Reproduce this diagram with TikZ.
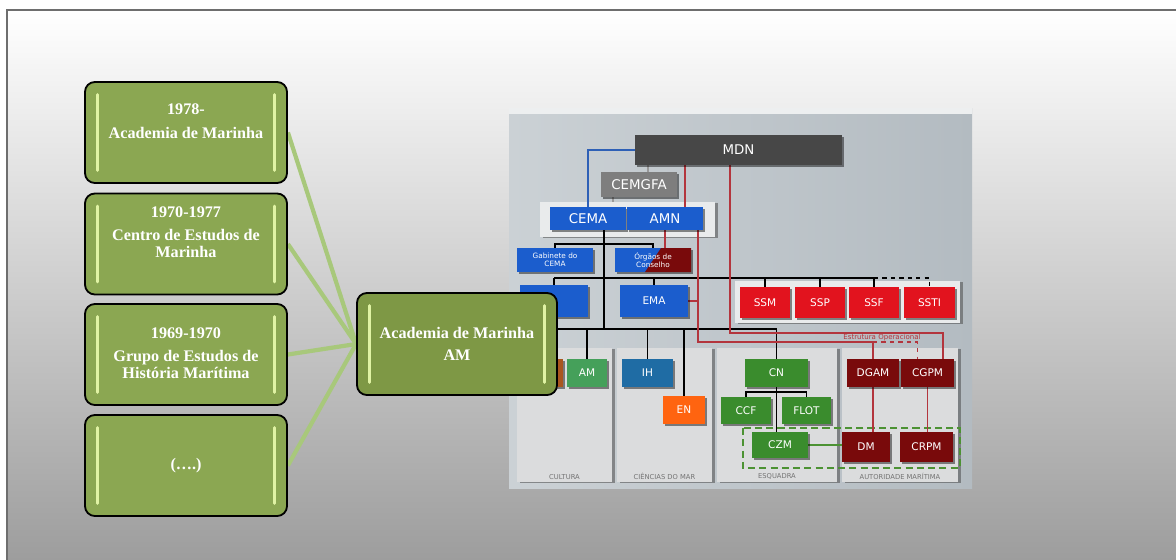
\documentclass[tikz,border=0pt]{standalone}
\usepackage{fontspec}
\setmainfont{Liberation Serif}
\newfontfamily\chartfont{DejaVu Sans}
\usetikzlibrary{positioning, calc, shadows}
\definecolor{eragreen}{HTML}{8BA752}
\definecolor{coregreen}{HTML}{7E9845}
\definecolor{glint}{HTML}{E0F3A4}
\definecolor{linkgreen}{HTML}{A8C87B}
\definecolor{framegray}{HTML}{6E6E6E}
\definecolor{slidemid}{HTML}{D9D9D9}
\definecolor{slidelow}{HTML}{9B9B9B}
\definecolor{chartlite}{HTML}{CBD1D5}
\definecolor{chartdeep}{HTML}{B3BBC1}
\definecolor{panelgray}{HTML}{DBDCDD}
\definecolor{headgray}{HTML}{E9EBEC}
\definecolor{mdngray}{HTML}{474747}
\definecolor{cemgfagray}{HTML}{7E7E7E}
\definecolor{navblue}{HTML}{1B5DCD}
\definecolor{hydroblue}{HTML}{1F6CA4}
\definecolor{schoolorange}{HTML}{FF6410}
\definecolor{cultgreen}{HTML}{45A05A}
\definecolor{fleetgreen}{HTML}{3A8C2D}
\definecolor{wine}{HTML}{790A0B}
\definecolor{ssred}{HTML}{E2131E}
\definecolor{rust}{HTML}{A9561F}
\definecolor{linkred}{HTML}{B3353D}
\definecolor{linkblue}{HTML}{2E60B6}
\definecolor{zonegreen}{HTML}{4C9233}
\def\pix{0.025cm}
\pgfdeclarelayer{backdrop}
\pgfdeclarelayer{links}
\pgfsetlayers{backdrop,links,main}

\begin{document}
\begin{tikzpicture}[x=0.025cm, y=-0.025cm,
  box size/.style 2 args={minimum width=#1*\pix, minimum height=#2*\pix},
  erabox/.style={draw=black, line width=1.3pt, rounded corners=7pt, fill=eragreen,
    box size={202}{101}, inner sep=0pt,
    path picture={
      \draw[glint, line width=2.2pt, line cap=round]
        ([xshift=9pt, yshift=-9pt]path picture bounding box.north west) --
        ([xshift=9pt, yshift=9pt]path picture bounding box.south west);
      \draw[glint, line width=2.2pt, line cap=round]
        ([xshift=-9pt, yshift=-9pt]path picture bounding box.north east) --
        ([xshift=-9pt, yshift=9pt]path picture bounding box.south east);}},
  eratext/.style={text=white, align=center, font=\bfseries\fontsize{11.5}{12}\selectfont},
  eralink/.style={linkgreen, line width=3pt},
  orgbox/.style={inner sep=0pt, text=white, align=center,
    font=\chartfont\fontsize{7.5}{8}\selectfont,
    drop shadow={shadow xshift=1.3pt, shadow yshift=-1.3pt, fill=black, opacity=.45}},
  bigbox/.style={orgbox, font=\chartfont\fontsize{9.5}{10}\selectfont},
  tinybox/.style={orgbox, font=\chartfont\fontsize{5.2}{5.8}\selectfont},
  panel/.style={fill=panelgray, inner sep=0pt,
    drop shadow={shadow xshift=2pt, shadow yshift=-1pt, fill=black!70, opacity=.55}},
  panellabel/.style={text=black!55, inner sep=.5pt, font=\chartfont\fontsize{4.8}{5}\selectfont},
  orgline/.style={black, line width=1.2pt},
  redline/.style={linkred, line width=1.1pt},
  blueline/.style={linkblue, line width=1.1pt},
  grayline/.style={black!40, line width=1.1pt},
  zoneline/.style={zonegreen, line width=1.1pt}]
\useasboundingbox (0,0) rectangle (1176,559);

% slide and chart ground
\begin{pgfonlayer}{backdrop}
  \draw[framegray, line width=1.5pt, top color=white, middle color=slidemid, bottom color=slidelow]
    (7,10) rectangle (1186,572);
  \fill[left color=chartlite, right color=chartdeep] (509,108) rectangle (972,488);
  \fill[white!65!chartlite] (509,108) rectangle (972,114);
  \node[panel, fill=headgray, box size={175}{35}] (headpanel) at (627.5,219.5) {};
  \node[panel, fill=headgray, box size={225}{42}] (sspanel) at (847.5,302) {};
  \node[panel, box size={95}{134}] (cultura) at (564.5,415) {};
  \node[panel, box size={95}{134}] (ciencias) at (664.5,415) {};
  \node[panel, box size={120}{134}] (esquadra) at (777,415) {};
  \node[panel, box size={116}{134}] (autoridade) at (900,415) {};
  \draw[zonegreen, line width=1.2pt, dash pattern=on 5pt off 3pt] (743,428) rectangle (960,468);
\end{pgfonlayer}

\node[panellabel, above=1.5pt of cultura.south] (cultura tag) {CULTURA};
\node[panellabel, above=1.5pt of ciencias.south] (ciencias tag) {CIÊNCIAS DO MAR};
\node[panellabel, above=1.5pt of esquadra.south] (esquadra tag) {ESQUADRA};
\node[panellabel, above=1.5pt of autoridade.south] (autoridade tag) {AUTORIDADE MARÍTIMA};

% chart boxes
\node[bigbox, fill=mdngray, box size={207}{30}] (mdn) at (738.5,150) {MDN};
\node[bigbox, fill=cemgfagray, box size={76}{25}] (cemgfa) at (639,184.5) {CEMGFA};
\node[bigbox, fill=navblue, box size={76}{23}] (cema) at (588,218.5) {CEMA};
\node[bigbox, fill=navblue, box size={76}{23}] (amn) at (665,218.5) {AMN};
\node[tinybox, fill=navblue, box size={76}{24}] (gabinete) at (555,260) {Gabinete do\\CEMA};
\node[tinybox, fill=navblue, box size={76}{24},
  path picture={\fill[wine] ([xshift=8*\pix]path picture bounding box.north)
    -- (path picture bounding box.north east) -- (path picture bounding box.south east)
    -- ([xshift=-8*\pix]path picture bounding box.south) -- cycle;}]
  (orgaos) at (653,260) {Órgãos de\\Conselho};
\node[orgbox, fill=navblue, box size={68}{32}] (cemm) at (554,301) {};
\node[orgbox, fill=navblue, box size={68}{32}] (ema) at (654,301) {EMA};
\node[orgbox, fill=ssred, box size={50}{31}] (ssm) at (765,302.5) {SSM};
\node[orgbox, fill=ssred, box size={50}{31}] (ssp) at (820,302.5) {SSP};
\node[orgbox, fill=ssred, box size={50}{31}] (ssf) at (874,302.5) {SSF};
\node[orgbox, fill=ssred, box size={51}{31}] (ssti) at (929.5,302.5) {SSTI};
\node[orgbox, fill=rust, box size={43}{28}] (rustbox) at (541.5,373) {};
\node[orgbox, fill=cultgreen, box size={40}{28}] (am) at (587,373) {AM};
\node[orgbox, fill=hydroblue, box size={51}{28}] (ih) at (647.5,373) {IH};
\node[orgbox, fill=schoolorange, box size={42}{28}] (en) at (684,410) {EN};
\node[orgbox, fill=fleetgreen, box size={63}{28}] (cn) at (776.5,373) {CN};
\node[orgbox, fill=fleetgreen, box size={50}{27}] (ccf) at (746,410.5) {CCF};
\node[orgbox, fill=fleetgreen, box size={49}{27}] (flot) at (806.5,410.5) {FLOT};
\node[orgbox, fill=fleetgreen, box size={56}{26}] (czm) at (780,445) {CZM};
\node[orgbox, fill=wine, box size={52}{28}] (dgam) at (873,373) {DGAM};
\node[orgbox, fill=wine, box size={53}{28}] (cgpm) at (927.5,373) {CGPM};
\node[orgbox, fill=wine, box size={48}{30}] (dm) at (866,447) {DM};
\node[orgbox, fill=wine, box size={53}{30}] (crpm) at (926.5,447) {CRPM};
\node[text=linkred, inner sep=0pt, font=\chartfont\fontsize{5}{5}\selectfont]
  (opstag) at (882,337.5) {Estrutura Operacional};

% chart connectors
\coordinate (railA) at (0,244);
\coordinate (railB) at (0,278);
\coordinate (railC) at (0,329);
\coordinate (railD) at (0,392);
\coordinate (opsA) at (0,333);
\coordinate (opsB) at (0,342);
\coordinate (spine) at ([xshift=16*\pix]cema.south);
\coordinate (amnleg) at ([xshift=33*\pix]amn.south);
\coordinate (mdnleg) at ([xshift=-8.5*\pix]mdn.south);
\begin{pgfonlayer}{links}
  \draw[blueline] (mdn.west) -| (cema.north);
  \draw[grayline] ([xshift=9*\pix]cemgfa.north) -- ([xshift=9*\pix]cemgfa.north |- mdn.south);
  \draw[grayline] ([xshift=-26*\pix]cemgfa.south) -- ([xshift=-26*\pix]cemgfa.south |- headpanel.north);
  \draw[orgline] (spine) -- (spine |- railC);
  \draw[orgline] (gabinete.north) |- (orgaos.north |- railA) -- (orgaos.north);
  \draw[orgline] (cemm.north |- railB) -- (ssf.north |- railB);
  \foreach \n in {cemm, ema, ssm, ssp, ssf}
    \draw[orgline] (\n.north) -- (\n.north |- railB);
  \draw[orgline, dashed] (ssf.north |- railB) -| (ssti.north);
  \draw[orgline] (cemm.south) |- (cn.north |- railC) -- (cn.north);
  \foreach \n in {am, ih, en}
    \draw[orgline] (\n.north) -- (\n.north |- railC);
  \draw[orgline] (cn.south) -- (cn.south |- czm.north);
  \draw[orgline] (ccf.north) |- (flot.north |- railD) -- (flot.north);
  \draw[redline] ([xshift=20*\pix]amn.north) -- ([xshift=20*\pix]amn.north |- mdn.south);
  \draw[redline] (amn.south) -- (amn.south |- orgaos.north);
  \draw[redline] (amnleg) |- (dgam.north |- opsB) -- (dgam.north);
  \draw[redline] (ema.east) -- (ema.east -| amnleg);
  \draw[redline, dashed] (dgam.north |- opsB) -| ([xshift=-10*\pix]cgpm.north);
  \draw[redline] (mdnleg) |- ([xshift=15.5*\pix]cgpm.north |- opsA) -- ([xshift=15.5*\pix]cgpm.north);
  \draw[redline] (dgam.south) -- (dgam.south |- dm.north);
  \draw[redline] (cgpm.south) -- (cgpm.south |- crpm.north);
  \draw[zoneline] (czm.east) -- (czm.east -| dm.west);
\end{pgfonlayer}

% timeline boxes
\node[erabox] (era1978) at (186,132.5) {};
\node[erabox] (era1970) at (186,244) {};
\node[erabox] (era1969) at (186,354.5) {};
\node[erabox] (eradots) at (186,465.5) {};
\node[erabox, fill=coregreen, box size={200}{102}] (core) at (457,344) {};
\node[eratext, yshift=8pt] (era1978txt) at (era1978) {1978-\\[4.5pt]Academia de Marinha};
\node[eratext, yshift=8.5pt] (era1970txt) at (era1970) {1970-1977\\[4.5pt]Centro de Estudos de\\Marinha};
\node[eratext, yshift=1pt] (era1969txt) at (era1969) {1969-1970\\[4.5pt]Grupo de Estudos de\\História Marítima};
\node[eratext] (eradotstxt) at (eradots) {(….)};
\node[eratext] (coretxt) at (core) {Academia de Marinha\\[3.5pt]AM};
\begin{pgfonlayer}{links}
  \foreach \e in {era1978, era1970, era1969, eradots}
    \draw[eralink] (\e.east) -- (core.west);
\end{pgfonlayer}
\end{tikzpicture}
\end{document}
